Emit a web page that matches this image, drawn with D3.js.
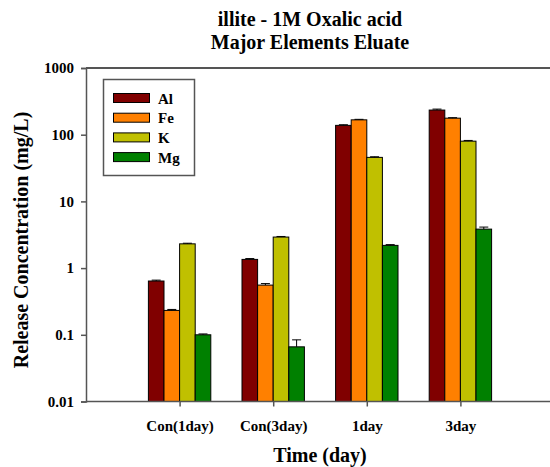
<!DOCTYPE html>
<html>
<head>
<meta charset="utf-8">
<script src="https://cdn.jsdelivr.net/npm/d3@7"></script>
<style>
  body { margin: 0; background: #fff; }
  text { font-family: "Liberation Serif", "Times New Roman", serif; font-weight: bold; fill: #000; }
</style>
</head>
<body>
<div id="chart"></div>
<script>
// chart values
const categories = ["Con(1day)", "Con(3day)", "1day", "3day"];
const seriesNames = ["Al", "Fe", "K", "Mg"];
const seriesColors = ["#800000", "#ff8000", "#c0c000", "#008000"];
const alValues = [0.64, 1.35, 138, 234];
const feValues = [0.232, 0.556, 167, 177];
const kValues = [2.31, 2.92, 45.7, 80];
const mgValues = [0.1, 0.066, 2.19, 3.84];
const alErrors = [0.02, 0.04, 3, 8];
const feErrors = [0.008, 0.03, 3, 3];
const kErrors = [0.05, 0.06, 1, 2];
const mgErrors = [0.003, 0.018, 0.06, 0.28];
const yTicks = [0.01, 0.1, 1, 10, 100, 1000];
const yTickLabels = ["0.01", "0.1", "1", "10", "100", "1000"];

const width = 550, height = 467;
const plotLeft = 86, plotTop = 68, plotBottom = 401.5;

const svg = d3.select("#chart").append("svg")
  .attr("width", width)
  .attr("height", height);

const x = d3.scalePoint()
  .domain(categories)
  .range([plotLeft, plotLeft + 93.6 * 5])
  .padding(1);

const barW = 15.6;
const xs = d3.scaleBand()
  .domain(seriesNames)
  .range([-barW * 2, barW * 2])
  .padding(0);

const y = d3.scaleLog()
  .domain([0.01, 1000])
  .range([plotBottom, plotTop]);

const allValues = [alValues, feValues, kValues, mgValues];
const allErrors = [alErrors, feErrors, kErrors, mgErrors];

const data = [];
categories.forEach((c, i) => {
  seriesNames.forEach((s, j) => {
    data.push({ cat: c, name: s, color: seriesColors[j], value: allValues[j][i], err: allErrors[j][i] });
  });
});

// frame top line
svg.append("line")
  .attr("x1", plotLeft).attr("x2", width)
  .attr("y1", plotTop).attr("y2", plotTop)
  .attr("stroke", "#555").attr("stroke-width", 2);

// bars
const groups = svg.append("g");
groups.selectAll("rect")
  .data(data)
  .enter()
  .append("rect")
  .attr("x", d => x(d.cat) + xs(d.name))
  .attr("y", d => y(d.value))
  .attr("width", xs.bandwidth())
  .attr("height", d => y(0.01) - y(d.value))
  .attr("fill", d => d.color)
  .attr("stroke", "#000")
  .attr("stroke-width", 1);

// error bars (upper only)
const eb = svg.append("g").attr("stroke", "#000").attr("stroke-width", 1);
eb.selectAll("line.v")
  .data(data)
  .enter()
  .append("line")
  .attr("class", "v")
  .attr("x1", d => x(d.cat) + xs(d.name) + barW / 2)
  .attr("x2", d => x(d.cat) + xs(d.name) + barW / 2)
  .attr("y1", d => y(d.value))
  .attr("y2", d => y(d.value + d.err));
eb.selectAll("line.c")
  .data(data)
  .enter()
  .append("line")
  .attr("class", "c")
  .attr("x1", d => x(d.cat) + xs(d.name) + barW / 2 - 4.5)
  .attr("x2", d => x(d.cat) + xs(d.name) + barW / 2 + 4.5)
  .attr("y1", d => y(d.value + d.err))
  .attr("y2", d => y(d.value + d.err));

// y axis
const yAxis = svg.append("g")
  .attr("transform", "translate(" + plotLeft + ",0)")
  .call(d3.axisLeft(y).tickValues(yTicks).tickFormat((d, i) => yTickLabels[i]).tickSize(5).tickPadding(7));
yAxis.select(".domain").attr("stroke", "#555").attr("stroke-width", 1.5);
yAxis.selectAll(".tick line").attr("stroke", "#555").attr("stroke-width", 1.5);
yAxis.selectAll("text").style("font-size", "15px").style("font-family", "Liberation Serif").style("font-weight", "bold");

// x axis
const xAxis = svg.append("g")
  .attr("transform", "translate(0," + plotBottom + ")")
  .call(d3.axisBottom(x).tickSize(5).tickSizeOuter(0).tickPadding(14));
xAxis.select(".domain").attr("stroke", "#555").attr("stroke-width", 1.5).attr("d", "M" + plotLeft + ",0H" + width);
xAxis.selectAll(".tick line").attr("stroke", "#555").attr("stroke-width", 1.5);
xAxis.selectAll("text").style("font-size", "15px").style("font-family", "Liberation Serif").style("font-weight", "bold");

// titles
svg.append("text")
  .attr("x", 310).attr("y", 26)
  .attr("text-anchor", "middle")
  .style("font-size", "20px")
  .text("illite - 1M Oxalic acid");
svg.append("text")
  .attr("x", 310).attr("y", 49)
  .attr("text-anchor", "middle")
  .style("font-size", "20px")
  .text("Major Elements Eluate");

svg.append("text")
  .attr("transform", "translate(28,240) rotate(-90)")
  .attr("text-anchor", "middle")
  .style("font-size", "20px")
  .text("Release Concentration (mg/L)");

svg.append("text")
  .attr("x", 320).attr("y", 462)
  .attr("text-anchor", "middle")
  .style("font-size", "20px")
  .text("Time (day)");

// legend
const legend = svg.append("g");
legend.append("rect")
  .attr("x", 103.5).attr("y", 79.5)
  .attr("width", 91).attr("height", 96)
  .attr("fill", "#fff")
  .attr("stroke", "#555").attr("stroke-width", 1.5);
seriesNames.forEach((s, i) => {
  const ly = 93.5 + i * 19.7;
  legend.append("rect")
    .attr("x", 113.5).attr("y", ly)
    .attr("width", 36).attr("height", 9)
    .attr("fill", seriesColors[i])
    .attr("stroke", "#000").attr("stroke-width", 1);
  legend.append("text")
    .attr("x", 158).attr("y", ly + 10)
    .style("font-size", "15px")
    .text(s);
});
</script>
</body>
</html>
